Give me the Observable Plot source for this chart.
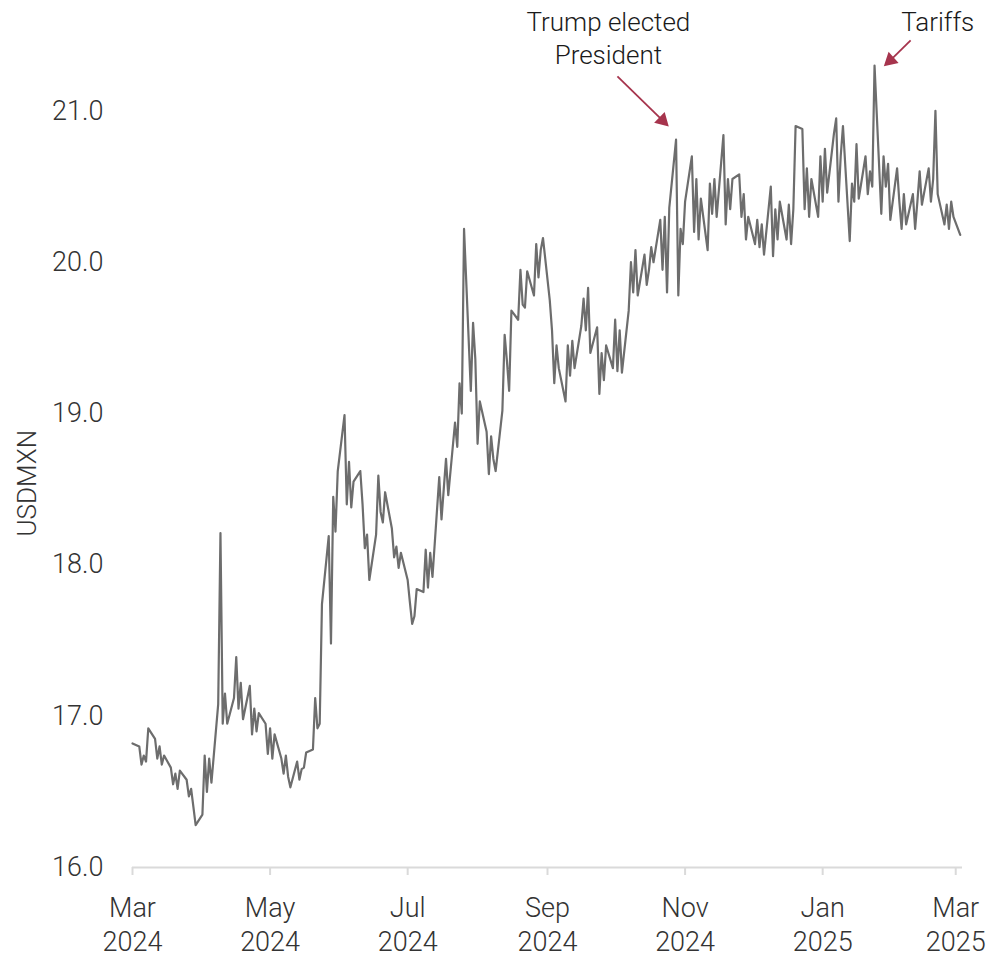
<!DOCTYPE html>
<html>
<head>
<meta charset="utf-8">
<script src="https://cdn.jsdelivr.net/npm/d3@7"></script>
<script src="https://cdn.jsdelivr.net/npm/@observablehq/plot@0.6"></script>
<style>
  html, body { margin: 0; padding: 0; background: #ffffff; }
  #chart svg { display: block; font-weight: 300; }
</style>
</head>
<body>
<div id="chart"></div>
<script>
// USDMXN, one value per trading day, grouped by calendar month
const mar2024 = [16.82, 16.80, 16.68, 16.74, 16.70, 16.92, 16.85, 16.72, 16.80, 16.68, 16.74,
                 16.66, 16.55, 16.62, 16.52, 16.64, 16.58, 16.47, 16.52, 16.40, 16.28];
const apr2024 = [16.35, 16.74, 16.50, 16.72, 16.56, 17.08, 18.21, 16.95, 17.15, 16.95,
                 17.12, 17.39, 17.05, 17.22, 16.98, 17.20, 16.88, 17.05, 16.90, 17.02, 16.95, 16.75];
const may2024 = [16.92, 16.72, 16.88, 16.72, 16.62, 16.74, 16.60, 16.53, 16.70, 16.58, 16.65,
                 16.66, 16.76, 16.78, 17.12, 16.92, 16.95, 17.74, 18.19, 17.48, 18.45, 18.22, 18.62];
const jun2024 = [18.99, 18.40, 18.68, 18.38, 18.55, 18.62, 18.40, 18.11, 18.20, 17.90,
                 18.20, 18.59, 18.35, 18.28, 18.48, 18.24, 18.05, 18.12, 17.98, 18.08];
const jul2024 = [17.90, 17.75, 17.61, 17.66, 17.84, 17.82, 18.10, 17.85, 18.08, 17.92, 18.58, 18.30,
                 18.50, 18.70, 18.46, 18.94, 18.78, 19.20, 19.00, 20.22, 19.15, 19.60, 19.36];
const aug2024 = [18.80, 19.08, 18.88, 18.60, 18.85, 18.70, 18.62, 19.02, 19.52, 19.35, 19.15,
                 19.68, 19.62, 19.95, 19.72, 19.70, 19.94, 19.78, 20.12, 19.90, 20.08, 20.16];
const sep2024 = [19.75, 19.55, 19.20, 19.45, 19.30, 19.08, 19.45, 19.25, 19.48, 19.30, 19.58,
                 19.76, 19.55, 19.83, 19.40, 19.57, 19.13, 19.40, 19.22, 19.45, 19.30];
const oct2024 = [19.62, 19.28, 19.55, 19.27, 19.68, 20.00, 19.80, 20.08, 19.78, 20.05, 19.85, 19.95,
                 20.10, 20.00, 20.28, 19.95, 20.30, 19.80, 20.36, 20.81, 19.78, 20.22, 20.12];
const nov2024 = [20.40, 20.70, 20.20, 20.55, 20.15, 20.42, 20.08, 20.52, 20.32, 20.55, 20.30,
                 20.84, 20.25, 20.55, 20.35, 20.55, 20.58, 20.30, 20.45, 20.15, 20.30];
const dec2024 = [20.12, 20.28, 20.10, 20.25, 20.05, 20.50, 20.04, 20.35, 20.15, 20.40, 20.15,
                 20.38, 20.12, 20.35, 20.90, 20.88, 20.35, 20.62, 20.30, 20.55, 20.30, 20.70];
const jan2025 = [20.40, 20.75, 20.46, 20.85, 20.95, 20.40, 20.70, 20.90, 20.14, 20.52, 20.40, 20.78,
                 20.42, 20.70, 20.45, 20.60, 20.50, 21.30, 20.32, 20.70, 20.50, 20.65, 20.28];
const feb2025 = [20.62, 20.40, 20.22, 20.45, 20.25, 20.45, 20.22, 20.40, 20.60, 20.38,
                 20.62, 20.40, 20.55, 21.00, 20.45, 20.25, 20.38, 20.22, 20.40, 20.30];
const mar2025 = [20.18];

const monthKeys = ["2024-03", "2024-04", "2024-05", "2024-06", "2024-07", "2024-08",
                   "2024-09", "2024-10", "2024-11", "2024-12", "2025-01", "2025-02", "2025-03"];
const monthValues = [mar2024, apr2024, may2024, jun2024, jul2024, aug2024,
                     sep2024, oct2024, nov2024, dec2024, jan2025, feb2025, mar2025];

// Axis settings
const yTicks = [16, 17, 18, 19, 20, 21];
const yLabel = "USDMXN";
const xStart = new Date(Date.UTC(2024, 2, 1));
const xEnd = new Date(Date.UTC(2025, 2, 4));

// Event annotations
const eventLabels = ["Trump elected\nPresident", "Tariffs"];
const eventLabelDates = ["2024-09-28", "2025-02-21"];
const eventLabelValues = [21.685, 21.685];
const arrowFromDates = ["2024-10-02", "2025-02-09"];
const arrowFromValues = [21.228, 21.466];
const arrowToDates = ["2024-10-22", "2025-01-31"];
const arrowToValues = [20.937, 21.334];

// Spread each month's values over its weekdays
const series = [];
monthKeys.forEach((key, i) => {
  const [yy, mm] = key.split("-").map(Number);
  const vals = monthValues[i];
  let k = 0;
  for (let d = new Date(Date.UTC(yy, mm - 1, 1)); d.getUTCMonth() === mm - 1 && k < vals.length; d = new Date(d.getTime() + 864e5)) {
    const wd = d.getUTCDay();
    if (wd === 0 || wd === 6) continue;
    series.push({date: new Date(d), value: vals[k++]});
  }
});

const parse = d3.utcParse("%Y-%m-%d");
const events = eventLabels.map((label, i) => ({
  label,
  lx: parse(eventLabelDates[i]), ly: eventLabelValues[i],
  x1: parse(arrowFromDates[i]), y1: arrowFromValues[i],
  x2: parse(arrowToDates[i]), y2: arrowToValues[i]
}));

const accent = "#a6344d";
const fontFamily = "Roboto, 'Liberation Sans', sans-serif";

const chart = Plot.plot({
  width: 991,
  height: 957,
  marginLeft: 132,
  marginRight: 29,
  marginTop: 65,
  marginBottom: 90,
  style: {fontFamily, background: "#ffffff", color: "#333333"},
  x: {type: "utc", domain: [xStart, xEnd]},
  y: {domain: [16, 21.3]},
  marks: [
    Plot.ruleY([16], {stroke: "#dadada", strokeWidth: 2}),
    Plot.axisX({
      ticks: d3.utcMonth.every(2),
      tickFormat: d => d3.utcFormat("%b")(d) + "\n" + d3.utcFormat("%Y")(d),
      tickSize: 8,
      tickPadding: 17,
      stroke: "#dadada",
      strokeWidth: 2,
      fill: "#333333",
      fontSize: 27,
      lineHeight: 1.27,
      label: null
    }),
    Plot.axisY({
      ticks: yTicks,
      tickFormat: d3.format(".1f"),
      tickSize: 0,
      tickPadding: 29,
      fill: "#333333",
      fontSize: 27,
      label: null
    }),
    Plot.text([yLabel], {
      frameAnchor: "left", dx: -105, dy: 70, rotate: -90,
      fontSize: 26, fill: "#333333"
    }),
    Plot.line(series, {
      x: "date", y: "value",
      stroke: "#6d6d6d", strokeWidth: 2.2
    }),
    Plot.link(events, {
      x1: "x1", y1: "y1", x2: "x2", y2: "y2",
      stroke: accent, strokeWidth: 1.8
    }),
    Plot.dot(events, {
      x: "x2", y: "y2", symbol: "triangle", r: 5.6,
      fill: accent, stroke: "none",
      rotate: (d, i) => [134.3, 228.4][i]
    }),
    Plot.text(events, {
      x: "lx", y: "ly", text: "label",
      lineAnchor: "top", lineHeight: 1.27,
      fontSize: 26, fill: "#1a1a1a"
    })
  ]
});

document.getElementById("chart").appendChild(chart);
</script>
</body>
</html>
